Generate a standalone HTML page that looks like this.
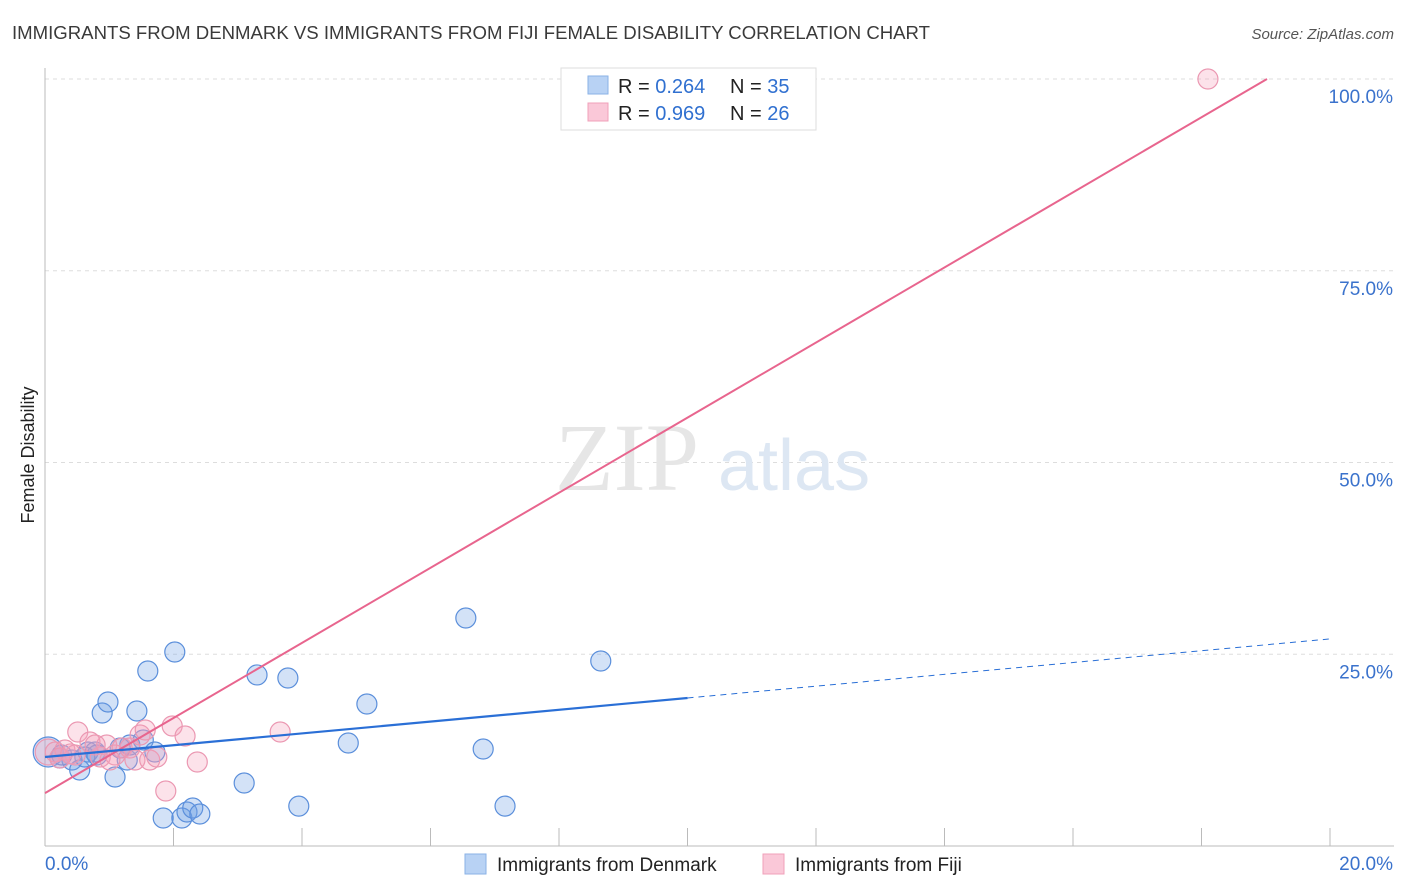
<!DOCTYPE html>
<html><head><meta charset="utf-8"><style>
body{margin:0;background:#fff;font-family:"Liberation Sans",sans-serif;}
svg{display:block}
</style></head><body>
<svg id="chart" width="1406" height="892" viewBox="0 0 1406 892" xmlns="http://www.w3.org/2000/svg">
<text x="12" y="39" font-size="18" fill="#3a3a3a" textLength="918" lengthAdjust="spacingAndGlyphs">IMMIGRANTS FROM DENMARK VS IMMIGRANTS FROM FIJI FEMALE DISABILITY CORRELATION CHART</text>
<text x="1394" y="39" font-size="15" fill="#555" font-style="italic" text-anchor="end">Source: ZipAtlas.com</text>
<g id="grid"></g>
<g id="axes"></g>
<text x="555" y="490" font-size="96" font-family="Liberation Serif,serif" fill="#e6e6e6">ZIP</text>
<text x="718" y="490" font-size="72" fill="#dde7f3">atlas</text>
<g id="pts"></g>
<g id="lines"></g>
<text transform="translate(34,455) rotate(-90)" font-size="18" fill="#222" text-anchor="middle">Female Disability</text>
<g>
<rect x="561" y="68" width="255" height="62" fill="#fff" stroke="#ddd"/>
<rect x="588" y="76" width="20" height="18" fill="#b8d2f4" stroke="#8ab2e6"/>
<rect x="588" y="103" width="20" height="18" fill="#fac8d8" stroke="#f0a0ba"/>
<text x="618" y="93" font-size="20" fill="#222">R = <tspan fill="#3070d0">0.264</tspan></text>
<text x="730" y="93" font-size="20" fill="#222">N = <tspan fill="#3070d0">35</tspan></text>
<text x="618" y="120" font-size="20" fill="#222">R = <tspan fill="#3070d0">0.969</tspan></text>
<text x="730" y="120" font-size="20" fill="#222">N = <tspan fill="#3070d0">26</tspan></text>
</g>
<g>
<rect x="465" y="854" width="21" height="20" fill="#b8d2f4" stroke="#8ab2e6"/>
<text x="497" y="871" font-size="19" fill="#222">Immigrants from Denmark</text>
<rect x="763" y="854" width="21" height="20" fill="#fac8d8" stroke="#f0a0ba"/>
<text x="795" y="871" font-size="19" fill="#222">Immigrants from Fiji</text>
</g>
</svg>
<script>
const xTicksPct=[0,20];
const yTicksPct=[25,50,75,100];
const denmarkX=[0.05,0.23,0.42,0.54,0.67,0.78,0.89,0.98,1.09,1.28,1.32,1.43,1.53,1.6,1.71,1.84,2.02,2.13,2.21,2.3,2.41,3.1,3.3,3.78,3.95,4.72,5.01,6.55,6.82,7.16,8.65,0.26,1.17,0.81,0.62];
const denmarkY=[12.26,11.47,11.21,9.91,12.26,12.26,17.34,18.77,9.0,11.21,13.17,17.6,13.82,22.82,12.26,3.65,25.29,3.65,4.43,4.95,4.17,8.21,22.3,21.9,5.2,13.43,18.51,29.73,12.65,5.2,24.12,11.86,12.78,11.86,11.6];
const fijiX=[0.05,0.16,0.31,0.51,0.7,0.86,0.96,1.09,1.2,1.32,1.4,1.48,1.56,1.63,1.74,1.88,1.98,2.18,2.37,3.66,18.1,0.47,0.23,1.01,0.78,0.4];
const fijiY=[12.26,12.26,12.52,14.86,13.56,11.6,13.17,11.86,12.78,12.78,11.21,14.47,15.12,11.21,11.6,7.17,15.65,14.34,10.95,14.86,100,11.86,11.47,11.21,13.17,12.0];
const denmarkTrend=[11.6,0.77];
const fijiTrend=[6.9,4.895];
const X0=45,X1=1330,Y0=846,Y100=79;
const sx=v=>X0+(v/20)*(X1-X0);
const sy=v=>Y0-(v/100)*(Y0-Y100);
const NS="http://www.w3.org/2000/svg";
function mk(tag,attrs,parent){const e=document.createElementNS(NS,tag);for(const k in attrs)e.setAttribute(k,attrs[k]);parent.appendChild(e);return e;}
const grid=document.getElementById('grid'),axes=document.getElementById('axes');
yTicksPct.forEach(t=>{
 const l=mk('line',{x1:X0,x2:1394,y1:sy(t),y2:sy(t),stroke:'#ddd','stroke-dasharray':'4,4'},grid);
 
 
 const tx=mk('text',{x:1393,y:sy(t)+24,'font-size':19,fill:'#3a72cc','text-anchor':'end'},axes);
 tx.textContent=t.toFixed(1)+'%';
 
 
});
mk('line',{x1:X0,x2:X0,y1:68,y2:846,stroke:'#bbb'},axes);
mk('line',{x1:X0,x2:1394,y1:846,y2:846,stroke:'#bbb'},axes);
for(let i=1;i<=10;i++){mk('line',{x1:sx(i*2),x2:sx(i*2),y1:828,y2:846,stroke:'#bbb'},axes);}
xTicksPct.forEach((t,i)=>{
 const tx=mk('text',{x:i?1393:45,y:870,'font-size':19,fill:'#3a72cc','text-anchor':i?'end':'start'},axes);
 tx.textContent=t.toFixed(1)+'%';
 
 
});
const pts=document.getElementById('pts');
denmarkX.forEach((x,i)=>{
 const c=mk('circle',{cx:sx(x),cy:sy(denmarkY[i]),r:i===0?15:10,fill:'rgba(110,160,230,0.3)',stroke:'#5b8fdb','stroke-width':1.2},pts);
 
 
});
fijiX.forEach((x,i)=>{
 const c=mk('circle',{cx:sx(x),cy:sy(fijiY[i]),r:i===0?13:10,fill:'rgba(245,160,185,0.3)',stroke:'#eb98b2','stroke-width':1.2},pts);
 
 
});
const lines=document.getElementById('lines');
const fEnd=(100-fijiTrend[0])/fijiTrend[1];
let l=mk('line',{x1:sx(0),y1:sy(fijiTrend[0]),x2:sx(fEnd),y2:sy(100),stroke:'#e8658e','stroke-width':2},lines);


l=mk('line',{x1:sx(0),y1:sy(denmarkTrend[0]),x2:sx(10),y2:sy(denmarkTrend[0]+denmarkTrend[1]*10),stroke:'#2a6fd6','stroke-width':2.2},lines);


l=mk('line',{x1:sx(10),y1:sy(denmarkTrend[0]+denmarkTrend[1]*10),x2:sx(20),y2:sy(denmarkTrend[0]+denmarkTrend[1]*20),stroke:'#2a6fd6','stroke-width':1,'stroke-dasharray':'6,5'},lines);


</script>
</body></html>
